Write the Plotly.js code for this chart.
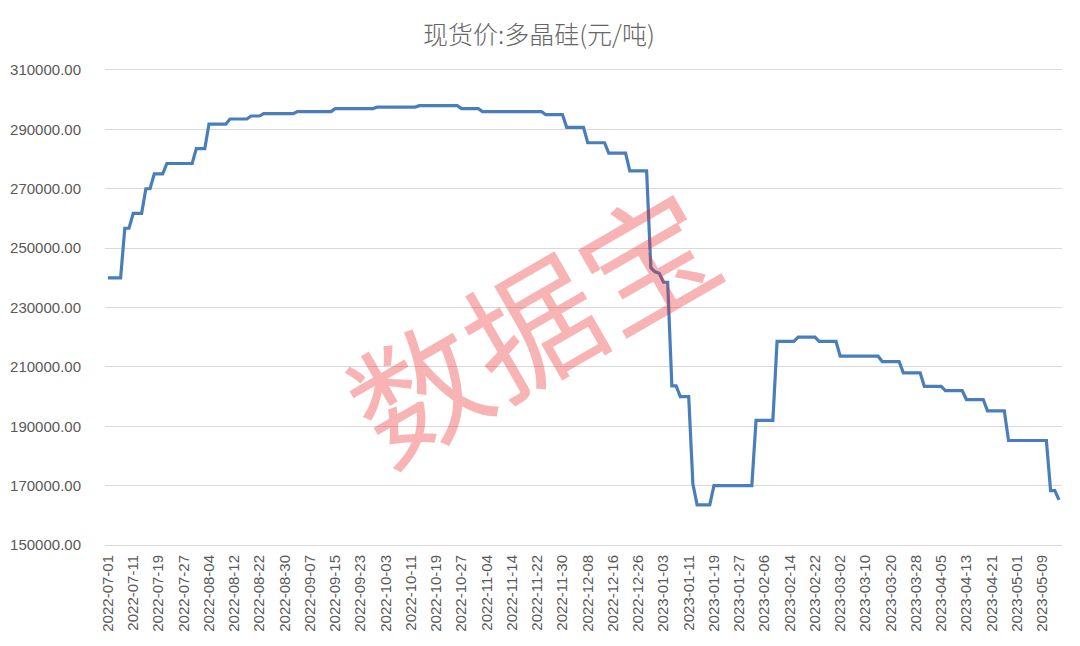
<!DOCTYPE html>
<html>
<head>
<meta charset="utf-8">
<script src="https://cdn.plot.ly/plotly-3.0.1.min.js"></script>
<style>
  html, body { margin: 0; padding: 0; background: #ffffff; }
  #chart { width: 1080px; height: 646px; }
</style>
</head>
<body>
<div id="chart"></div>
<script>
// Plateau end-points of the daily spot price series (weekdays only)
const dates = [
  '2022-07-01','2022-07-06','2022-07-07','2022-07-08','2022-07-11','2022-07-13',
  '2022-07-14','2022-07-15','2022-07-18','2022-07-20','2022-07-21','2022-07-29',
  '2022-08-01','2022-08-03','2022-08-04','2022-08-10','2022-08-11','2022-08-17',
  '2022-08-18','2022-08-22','2022-08-23','2022-09-01','2022-09-02','2022-09-14',
  '2022-09-15','2022-09-28','2022-09-29','2022-10-12','2022-10-13','2022-10-26',
  '2022-10-27','2022-11-02','2022-11-03','2022-11-23','2022-11-24','2022-11-30',
  '2022-12-01','2022-12-07','2022-12-08','2022-12-14','2022-12-15','2022-12-21',
  '2022-12-22','2022-12-28','2022-12-29','2022-12-30','2023-01-02','2023-01-03',
  '2023-01-04','2023-01-05','2023-01-06','2023-01-09','2023-01-11','2023-01-12',
  '2023-01-13','2023-01-18','2023-01-19','2023-02-01','2023-02-02','2023-02-08',
  '2023-02-09','2023-02-15','2023-02-16','2023-02-22','2023-02-23','2023-03-01',
  '2023-03-02','2023-03-15','2023-03-16','2023-03-22','2023-03-23','2023-03-29',
  '2023-03-30','2023-04-05','2023-04-06','2023-04-12','2023-04-13','2023-04-19',
  '2023-04-20','2023-04-26','2023-04-27','2023-05-10','2023-05-11','2023-05-12',
  '2023-05-15'
];
const prices = [
  240000,240000,256700,256700,261700,261700,
  270000,270000,275000,275000,278500,278500,
  283500,283500,291800,291800,293500,293500,
  294500,294500,295300,295300,296000,296000,
  297000,297000,297500,297500,298000,298000,
  297000,297000,296000,296000,295000,295000,
  290700,290700,285500,285500,282000,282000,
  276000,276000,243400,242000,241500,238500,
  238500,203600,203600,200000,200000,170500,
  163500,163500,170000,170000,192000,192000,
  218600,218600,220000,220000,218600,218600,
  213600,213600,211800,211800,208000,208000,
  203400,203400,202000,202000,199000,199000,
  195200,195200,185200,185200,168300,168300,
  165200
];
const tickDates = [
  '2022-07-01','2022-07-11','2022-07-19','2022-07-27','2022-08-04','2022-08-12',
  '2022-08-22','2022-08-30','2022-09-07','2022-09-15','2022-09-23','2022-10-03',
  '2022-10-11','2022-10-19','2022-10-27','2022-11-04','2022-11-14','2022-11-22',
  '2022-11-30','2022-12-08','2022-12-16','2022-12-26','2023-01-03','2023-01-11',
  '2023-01-19','2023-01-27','2023-02-06','2023-02-14','2023-02-22','2023-03-02',
  '2023-03-10','2023-03-20','2023-03-28','2023-04-05','2023-04-13','2023-04-21',
  '2023-05-01','2023-05-09'
];
const yTicks = [150000,170000,190000,210000,230000,250000,270000,290000,310000];
const titleText = '现货价:多晶硅(元/吨)';
const watermark = '数据宝';

const grey = '#595959';
const trace = {
  x: dates, y: prices, type: 'scatter', mode: 'lines',
  line: { color: '#4a7ebb', width: 3.2, shape: 'linear' },
  hoverinfo: 'skip'
};

const layout = {
  width: 1080, height: 646,
  margin: { l: 105, r: 18, t: 70, b: 101 },
  paper_bgcolor: '#ffffff', plot_bgcolor: '#ffffff',
  showlegend: false,
  title: {
    text: titleText, x: 0.499, xref: 'container', xanchor: 'center',
    y: 30, yref: 'container', yanchor: 'middle',
    font: { family: 'Noto Sans CJK SC, sans-serif', size: 25, color: '#666666', weight: 300 }
  },
  xaxis: {
    type: 'date',
    rangebreaks: [{ bounds: ['sat', 'mon'] }],
    range: ['2022-06-30 07:00', '2023-05-15 17:00'],
    tickmode: 'array', tickvals: tickDates, ticktext: tickDates,
    tickangle: -90,
    tickfont: { family: 'Liberation Sans, Arial, sans-serif', size: 15, color: grey },
    ticks: 'outside', ticklen: 3, tickcolor: 'rgba(0,0,0,0)',
    showgrid: false, zeroline: false,
    showline: true, linecolor: '#d9d9d9', linewidth: 1, mirror: true
  },
  yaxis: {
    range: [150000, 310000],
    tickmode: 'array', tickvals: yTicks,
    tickformat: '.2f',
    tickfont: { family: 'Liberation Sans, Arial, sans-serif', size: 15, color: grey },
    ticks: 'outside', ticklen: 20, tickcolor: 'rgba(0,0,0,0)',
    showgrid: true, gridcolor: '#d9d9d9', gridwidth: 1,
    zeroline: false, showline: false
  },
  annotations: [{
    text: watermark, xref: 'paper', yref: 'paper',
    x: 0.444, y: 0.472, xanchor: 'center', yanchor: 'middle',
    showarrow: false, textangle: -30,
    font: { family: 'Noto Sans CJK SC, sans-serif', size: 132, color: 'rgba(235,40,40,0.35)' }
  }]
};

Plotly.newPlot('chart', [trace], layout, { staticPlot: true, displayModeBar: false });
</script>
</body>
</html>
